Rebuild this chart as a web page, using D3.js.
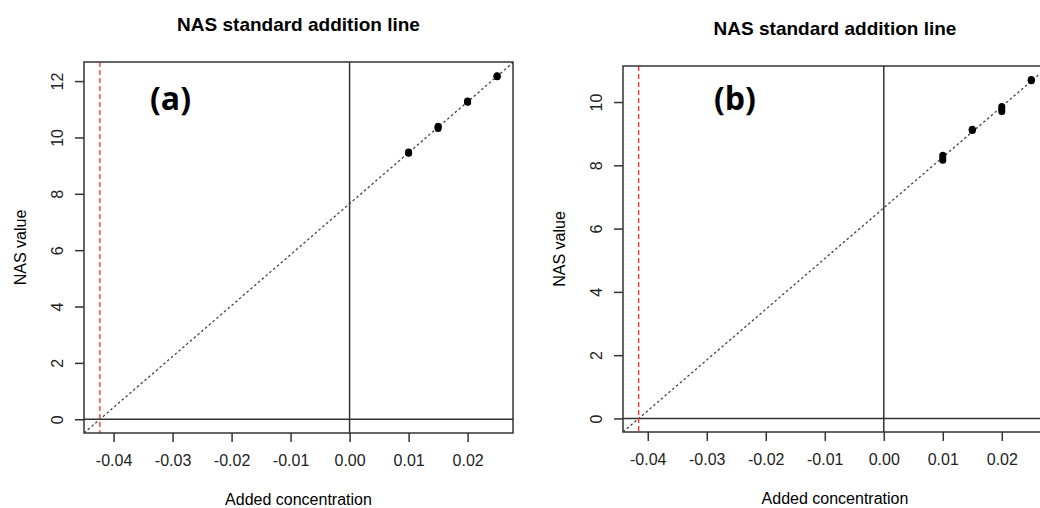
<!DOCTYPE html>
<html>
<head>
<meta charset="utf-8">
<script src="https://cdn.jsdelivr.net/npm/d3@7"></script>
<style>
  body { margin: 0; background: #fff; }
  svg { display: block; font-family: "Liberation Sans", Arial, sans-serif; }
</style>
</head>
<body>
<svg width="1040" height="508"></svg>
<script>
// added concentrations (x) and replicate NAS values for each panel
var concentrations = [0.01, 0.015, 0.02, 0.025];
var nasA = [[9.44, 9.46, 9.48], [10.32, 10.36, 10.40], [11.25, 11.27, 11.29], [12.15, 12.17, 12.19]];
var nasB = [[8.16, 8.24, 8.32], [9.10, 9.12, 9.14], [9.70, 9.78, 9.86], [10.67, 10.69, 10.71]];
var xTicks = [-0.04, -0.03, -0.02, -0.01, 0.00, 0.01, 0.02];
var yTicksA = [0, 2, 4, 6, 8, 10, 12];
var yTicksB = [0, 2, 4, 6, 8, 10];
var panelLabels = ["(a)", "(b)"];
var title = "NAS standard addition line";

function fitLine(xs, ys) {
    var mx = d3.mean(xs), my = d3.mean(ys);
    var sxy = d3.sum(xs, (x, i) => (x - mx) * (ys[i] - my));
    var sxx = d3.sum(xs, x => (x - mx) * (x - mx));
    var slope = sxy / sxx;
    return { slope: slope, intercept: my - slope * mx };
}

// R style axis range: data range padded by 4%
function rRange(lo, hi) {
    var pad = (hi - lo) * 0.04;
    return [lo - pad, hi + pad];
}

function drawPanel(svg, opt) {
    var pts = [];
    opt.values.forEach((reps, i) => reps.forEach(v => pts.push({ x: concentrations[i], y: v })));
    var fit = fitLine(pts.map(d => d.x), pts.map(d => d.y));
    var x0 = -fit.intercept / fit.slope;

    var x = d3.scaleLinear()
        .domain(rRange(x0, d3.max(pts, d => d.x)))
        .range([opt.left, opt.right]);
    var y = d3.scaleLinear()
        .domain(rRange(0, d3.max(pts, d => d.y)))
        .range([opt.bottom, opt.top]);

    var g = svg.append("g");
    var clipId = "clip" + opt.label.replace(/\W/g, "");
    g.append("clipPath").attr("id", clipId)
        .append("rect")
        .attr("x", opt.left).attr("y", opt.top)
        .attr("width", opt.right - opt.left).attr("height", opt.bottom - opt.top);

    var plot = g.append("g").attr("clip-path", "url(#" + clipId + ")");

    // zero lines
    plot.append("line")
        .attr("x1", opt.left).attr("x2", opt.right)
        .attr("y1", y(0)).attr("y2", y(0))
        .attr("stroke", "#333").attr("stroke-width", 1.5);
    plot.append("line")
        .attr("x1", x(0)).attr("x2", x(0))
        .attr("y1", opt.top).attr("y2", opt.bottom)
        .attr("stroke", "#333").attr("stroke-width", 1.5);

    // fitted line
    var xd = x.domain();
    plot.append("line")
        .attr("x1", x(xd[0])).attr("y1", y(fit.intercept + fit.slope * xd[0]))
        .attr("x2", x(xd[1])).attr("y2", y(fit.intercept + fit.slope * xd[1]))
        .attr("stroke", "#444").attr("stroke-width", 1.3)
        .attr("stroke-dasharray", "2.5,2.5");

    // x intercept
    plot.append("line")
        .attr("x1", x(x0)).attr("x2", x(x0))
        .attr("y1", opt.top).attr("y2", opt.bottom)
        .attr("stroke", "#ff2a2a").attr("stroke-width", 1.3)
        .attr("stroke-dasharray", "5,3");

    plot.selectAll("circle.pt")
        .data(pts)
        .enter()
        .append("circle")
        .attr("class", "pt")
        .attr("cx", d => x(d.x))
        .attr("cy", d => y(d.y))
        .attr("r", 3.5)
        .attr("fill", "#000");

    // box
    g.append("rect")
        .attr("x", opt.left).attr("y", opt.top)
        .attr("width", opt.right - opt.left).attr("height", opt.bottom - opt.top)
        .attr("fill", "none").attr("stroke", "#333").attr("stroke-width", 1.5);

    var xAxis = d3.axisBottom(x).tickValues(xTicks)
        .tickSize(9).tickPadding(13);
    g.append("g")
        .attr("transform", `translate(0, ${opt.bottom})`)
        .call(xAxis)
        .call(a => a.select(".domain").remove())
        .call(a => a.selectAll("line").attr("stroke", "#333").attr("stroke-width", 1.5))
        .call(a => a.selectAll("text").attr("fill", "#222")
            .style("font-family", "Liberation Sans, Arial, sans-serif").style("font-size", "16px")
            .text(d => d3.format(".2f")(d).replace("−", "-")));

    var yAxis = d3.axisLeft(y).tickValues(opt.yTicks).tickSize(9).tickPadding(0);
    var ya = g.append("g")
        .attr("transform", `translate(${opt.left}, 0)`)
        .call(yAxis);
    ya.select(".domain").remove();
    ya.selectAll("line").attr("stroke", "#333").attr("stroke-width", 1.5);
    ya.selectAll("text")
        .attr("fill", "#222")
        .attr("x", null)
        .attr("text-anchor", "middle")
        .attr("transform", "translate(-27,0) rotate(-90)")
        .attr("y", 0)
        .attr("dy", "0.35em")
        .style("font-family", "Liberation Sans, Arial, sans-serif")
        .style("font-size", "16px");

    var cx = (opt.left + opt.right) / 2;
    g.append("text")
        .attr("x", cx).attr("y", opt.top - 31)
        .attr("text-anchor", "middle")
        .attr("font-weight", "bold").attr("font-size", 19)
        .text(title);

    g.append("text")
        .attr("x", cx).attr("y", opt.bottom + 72)
        .attr("text-anchor", "middle")
        .attr("font-size", 16)
        .text(opt.xTitle);

    g.append("text")
        .attr("transform", `translate(${opt.left - 64}, ${(opt.top + opt.bottom) / 2}) rotate(-90)`)
        .attr("text-anchor", "middle")
        .attr("dy", "0.35em")
        .attr("font-size", 16)
        .text("NAS value");

    g.append("text")
        .attr("x", opt.labelX).attr("y", 110)
        .attr("font-family", "'Open Sans', sans-serif")
        .attr("font-weight", "bold").attr("font-size", 32)
        .text(opt.label);
}

var svg = d3.select("svg");
drawPanel(svg, { values: nasA, yTicks: yTicksA, left: 84, right: 513, top: 62, bottom: 433,
    label: panelLabels[0], labelX: 150, xTitle: "Added concentration" });
drawPanel(svg, { values: nasB, yTicks: yTicksB, left: 623, right: 1047, top: 66, bottom: 432,
    label: panelLabels[1], labelX: 714, xTitle: "Added concentration" });
</script>
</body>
</html>
